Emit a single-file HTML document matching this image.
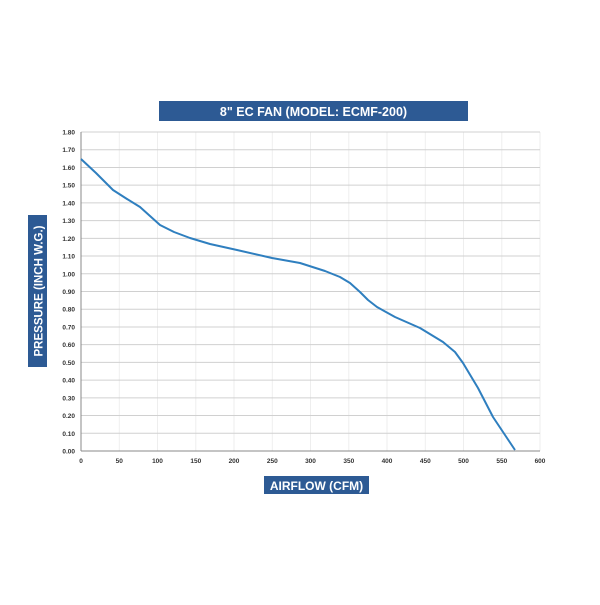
<!DOCTYPE html>
<html><head><meta charset="utf-8"><style>
body{margin:0;background:#fff;width:600px;height:600px;overflow:hidden;font-family:"Liberation Sans",sans-serif}
</style></head><body>
<svg width="600" height="600" xmlns="http://www.w3.org/2000/svg">
<rect x="159" y="101" width="309" height="20" fill="#2d5a94"/>
<text x="313.5" y="116" text-anchor="middle" font-size="12.5" font-weight="bold" fill="#fff">8" EC FAN (MODEL: ECMF-200)</text>
<g stroke="#eeeeee" stroke-width="1">
<line x1="119.3" y1="132" x2="119.3" y2="451"/><line x1="157.5" y1="132" x2="157.5" y2="451"/><line x1="195.8" y1="132" x2="195.8" y2="451"/><line x1="234" y1="132" x2="234" y2="451"/><line x1="272.3" y1="132" x2="272.3" y2="451"/><line x1="310.5" y1="132" x2="310.5" y2="451"/><line x1="348.8" y1="132" x2="348.8" y2="451"/><line x1="387" y1="132" x2="387" y2="451"/><line x1="425.3" y1="132" x2="425.3" y2="451"/><line x1="463.5" y1="132" x2="463.5" y2="451"/><line x1="501.8" y1="132" x2="501.8" y2="451"/><line x1="540" y1="132" x2="540" y2="451"/>
</g>
<g stroke="#d0d0d0" stroke-width="1" id="h"></g>
<g id="yl" font-size="6.5" font-weight="bold" fill="#333" text-anchor="end"></g>
<g font-size="6.5" font-weight="bold" fill="#333" text-anchor="middle">
<text x="81" y="463">0</text><text x="119.3" y="463">50</text><text x="157.5" y="463">100</text><text x="195.8" y="463">150</text><text x="234" y="463">200</text><text x="272.3" y="463">250</text><text x="310.5" y="463">300</text><text x="348.8" y="463">350</text><text x="387" y="463">400</text><text x="425.3" y="463">450</text><text x="463.5" y="463">500</text><text x="501.8" y="463">550</text><text x="540" y="463">600</text>
</g>
<line x1="81" y1="132" x2="81" y2="451" stroke="#888" stroke-width="1"/>
<line x1="81" y1="451" x2="540" y2="451" stroke="#888" stroke-width="1"/>
<polyline fill="none" stroke="#2f7fbf" stroke-width="2" stroke-linejoin="round" points="81,159 96,173 113,190 127,199 140,207 150,216 160,225 174,232 190,238 210,244 237,250 272,258 300,263 325,271 340,277 350,283 360,292 368,300 377,307 395,317 420,328 443,342 455,352 463,363 478,388 493,417 515,450"/>
<rect x="264" y="476" width="105" height="18" fill="#2d5a94"/>
<text x="316.5" y="490" text-anchor="middle" font-size="12" font-weight="bold" fill="#fff">AIRFLOW (CFM)</text>
<rect x="28" y="215" width="19" height="152" fill="#2d5a94"/>
<text transform="translate(42.5,291) rotate(-90)" text-anchor="middle" font-size="11.5" font-weight="bold" fill="#fff">PRESSURE (INCH W.G.)</text>
</svg>
<script>
var h=document.getElementById('h'),yl=document.getElementById('yl'),ns='http://www.w3.org/2000/svg';
for(var i=0;i<=18;i++){var y=451-i*17.722;
if(i>0){var l=document.createElementNS(ns,'line');l.setAttribute('x1',81);l.setAttribute('x2',540);l.setAttribute('y1',y);l.setAttribute('y2',y);h.appendChild(l);}
var t=document.createElementNS(ns,'text');t.setAttribute('x',75);t.setAttribute('y',y+2.5);t.textContent=(i/10).toFixed(2);yl.appendChild(t);}
</script>
</body></html>
